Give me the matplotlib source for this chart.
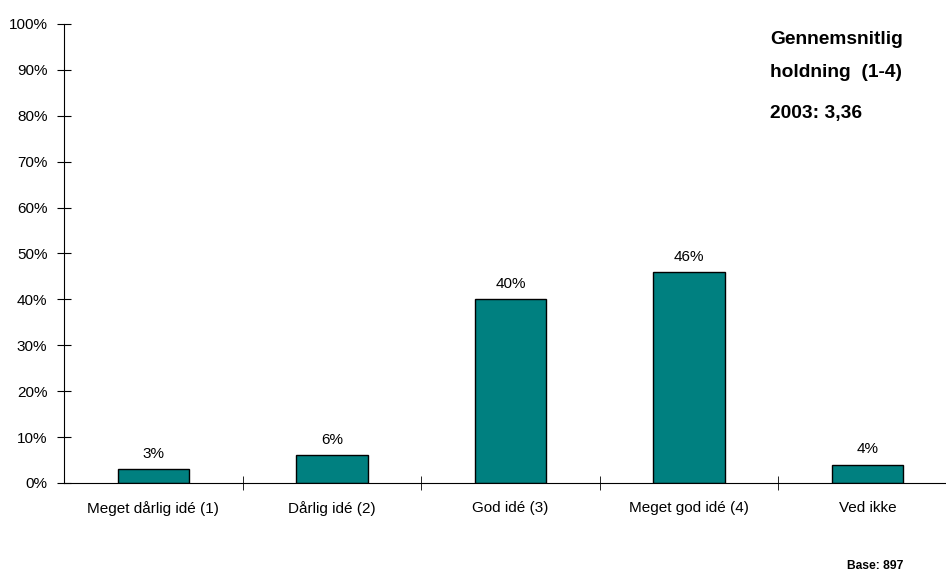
import numpy as np
import matplotlib.pyplot as plt

plt.rcParams['font.family'] = ['Liberation Sans', 'DejaVu Sans']

# Data
categories = ['Meget dårlig idé (1)', 'Dårlig idé (2)', 'God idé (3)',
              'Meget god idé (4)', 'Ved ikke']
values = [3, 6, 40, 46, 4]
y_ticks = np.arange(0, 101, 10)

fig = plt.figure(figsize=(9.46, 5.77), dpi=100)
# axis runs past the right edge, as in the original
ax = fig.add_axes([0.0677, 0.163, 0.944, 0.7955])

x = np.arange(len(categories))
ax.bar(x, values, width=0.4, color='#008080', edgecolor='black', linewidth=1)

for xi, v in zip(x, values):
    ax.text(xi, v + 1.8, f"{v}%", ha='center', va='bottom', fontsize=11)

ax.set_xlim(-0.5, len(categories) - 0.5)
ax.set_ylim(0, 100)
ax.set_yticks(y_ticks)
ax.set_yticklabels([f"{t}%" for t in y_ticks], fontsize=11)

# category labels in the middle, tick marks at the boundaries
ax.set_xticks(x)
ax.set_xticklabels(categories, fontsize=11)
ax.tick_params(axis='x', which='major', length=0, pad=13)
ax.set_xticks(np.arange(0.5, len(categories) - 0.5, 1), minor=True)
ax.tick_params(axis='x', which='minor', length=10, direction='inout')
ax.tick_params(axis='y', length=10, direction='inout', pad=7)

for side in ['top', 'right']:
    ax.spines[side].set_visible(False)

fig.text(0.814, 0.931, 'Gennemsnitlig', fontsize=13.8,
         fontweight='bold', va='center', ha='left')
fig.text(0.814, 0.874, 'holdning  (1-4)', fontsize=13.8,
         fontweight='bold', va='center', ha='left')
fig.text(0.814, 0.804, '2003: 3,36', fontsize=13.8, fontweight='bold',
         va='center', ha='left')
fig.text(0.955, 0.019, 'Base: 897', fontsize=8.7, fontweight='bold',
         ha='right', va='center')

fig.savefig('out.png', dpi=100)
